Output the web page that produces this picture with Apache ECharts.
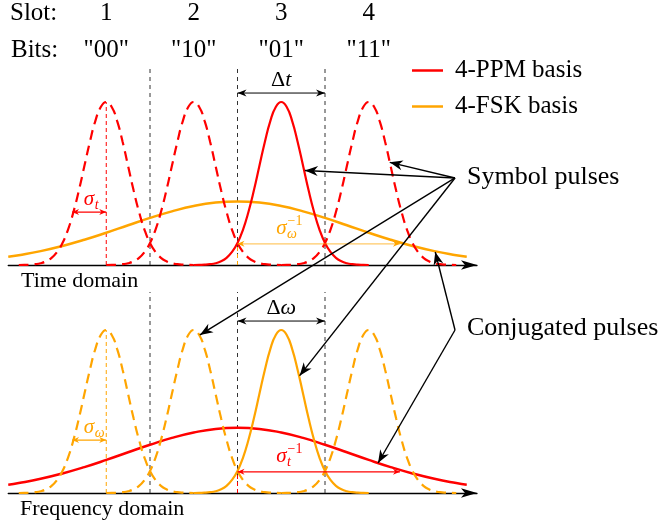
<!DOCTYPE html>
<html>
<head>
<meta charset="utf-8">
<script src="https://cdn.jsdelivr.net/npm/echarts@6/dist/echarts.min.js"></script>
<style>
  html, body { margin: 0; padding: 0; background: #fff; }
  #chart { width: 659px; height: 526px; }
</style>
</head>
<body>
<div id="chart"></div>
<script>
// 颜色
const red = '#ff0000';
const orange = '#ffa500';
const serif = 'Liberation Serif';

// 时隙
const slotNumbers = ['1', '2', '3', '4'];
const slotBits = ['"00"', '"10"', '"01"', '"11"'];
const slotCenters = [1, 2, 3, 4];
const slotBounds = [1.5, 2.5, 3.5];
const activeSlot = 3;

// 窄脉冲（半边）: 偏移 / 高度
const pulseOffsets = [0, 0.0625, 0.125, 0.1875, 0.25, 0.3125, 0.375, 0.4375, 0.5,
  0.5625, 0.625, 0.6875, 0.75, 0.8125, 0.875, 0.9375, 1];
const pulseHeights = [1, 0.969, 0.883, 0.755, 0.607, 0.458, 0.325, 0.216, 0.135,
  0.080, 0.044, 0.023, 0.011, 0.005, 0.002, 0.001, 0];

// 宽脉冲（半边）
const wideCenter = 2.5;
const wideOffsets = [0, 0.25, 0.5, 0.75, 1, 1.25, 1.5, 1.75, 2, 2.25, 2.5, 2.62];
const wideTime = [0.39, 0.383, 0.362, 0.329, 0.289, 0.244, 0.198, 0.155, 0.117, 0.085, 0.060, 0.050];
const wideFreq = [0.40, 0.393, 0.371, 0.338, 0.296, 0.250, 0.203, 0.159, 0.120, 0.087, 0.061, 0.051];

// 标注（数据坐标）
const widthMark = [0.609, 1, 0.325];     // sigma 箭头: x0, x1, y
const crossLevel = 0.13;                 // 交叉高度
const invWidthEnd = 4.357;               // sigma^-1 箭头终点
const deltaLevel = 1.055;                // Δt / Δω 高度
const symbolSource = [0, 4.986, 0.534];
const symbolTargets = [[0, 3.27, 0.58], [0, 4.24, 0.63], [1, 2.07, 0.97], [1, 3.21, 0.72]];
const conjSource = [1, 4.986, 1.0];
const conjTargets = [[0, 4.76, 0.08], [1, 4.106, 0.184]];

const xMin = -0.12, xMax = 5.237;
const yMaxList = [1.21, 1.233];

function mirrorCurve(center, offs, hs) {
  const pts = [];
  for (let i = offs.length - 1; i > 0; i--) pts.push([center - offs[i], hs[i]]);
  for (let i = 0; i < offs.length; i++) pts.push([center + offs[i], hs[i]]);
  return pts;
}

function curveSeries(g, name, data, color, width, dashed) {
  return {
    type: 'line', name: name, xAxisIndex: g, yAxisIndex: g, data: data,
    showSymbol: false, symbol: 'none', smooth: true, z: 3,
    itemStyle: { color: color },
    lineStyle: { color: color, width: width, type: dashed ? [10, 6] : 'solid' }
  };
}

function vline(g, x, y0, y1, color, width, dash) {
  return {
    type: 'line', xAxisIndex: g, yAxisIndex: g, data: [[x, y0], [x, y1]],
    showSymbol: false, symbol: 'none', silent: true, z: 2,
    lineStyle: { color: color, width: width, type: dash }
  };
}

let series = [];
// 两个面板: 时域(红窄脉冲 + 橙宽) / 频域(橙窄脉冲 + 红宽)
[[red, orange, wideTime, '4-PPM basis', '4-FSK basis'],
 [orange, red, wideFreq, '4-FSK basis', '4-PPM basis']].forEach((p, g) => {
  slotBounds.forEach(b => series.push(vline(g, b, 0, yMaxList[g], '#333', 1, [4, 4])));
  series.push(vline(g, 1, 0, 1, p[0], 1, [4, 3]));
  series.push(vline(g, wideCenter, 0, crossLevel, p[1], 1, [4, 3]));
  series.push(curveSeries(g, p[4], mirrorCurve(wideCenter, wideOffsets, p[2]), p[1], 2.5, false));
  slotCenters.forEach(c => {
    const solid = c === activeSlot;
    series.push(curveSeries(g, solid ? p[3] : 'slot ' + c + '-' + g,
      mirrorCurve(c, pulseOffsets, pulseHeights), p[0], solid ? 2.2 : 2.2, !solid));
  });
});

const axisCommon = {
  type: 'value', min: xMin, max: xMax,
  axisLine: { show: true, onZero: false, symbol: ['none', 'arrow'], symbolSize: [7, 16],
    lineStyle: { color: '#000', width: 1.3 } },
  axisTick: { show: false }, axisLabel: { show: false }, splitLine: { show: false }
};

const chart = echarts.init(document.getElementById('chart'));
chart.setOption({
  animation: false,
  backgroundColor: '#fff',
  grid: [
    { left: 8.25, top: 265 - yMaxList[0] * 163, width: (xMax - xMin) * 87.5, height: yMaxList[0] * 163 },
    { left: 8.25, top: 493 - yMaxList[1] * 163, width: (xMax - xMin) * 87.5, height: yMaxList[1] * 163 }
  ],
  xAxis: [Object.assign({ gridIndex: 0 }, axisCommon), Object.assign({ gridIndex: 1 }, axisCommon)],
  yAxis: [
    { type: 'value', gridIndex: 0, min: 0, max: yMaxList[0], show: false },
    { type: 'value', gridIndex: 1, min: 0, max: yMaxList[1], show: false }
  ],
  legend: {
    data: ['4-PPM basis', '4-FSK basis'], orient: 'vertical', left: 412, top: 58,
    icon: 'rect', itemWidth: 31, itemHeight: 2.5, itemGap: 11, padding: 0,
    textStyle: { fontFamily: serif, fontSize: 25, color: '#000', lineHeight: 22, padding: [0, 0, 0, 7] }
  },
  series: series
});

// ---------- 标注 ----------
function px(g, x, y) {
  return chart.convertToPixel({ gridIndex: g }, [x, y]);
}

function head(tip, from, len, half, color) {
  const dx = tip[0] - from[0], dy = tip[1] - from[1];
  const d = Math.hypot(dx, dy);
  const ux = dx / d, uy = dy / d, nx = -uy, ny = ux;
  const bx = tip[0] - ux * len, by = tip[1] - uy * len;
  const notch = [tip[0] - ux * len * 0.7, tip[1] - uy * len * 0.7];
  return {
    type: 'polygon', z: 20, silent: true,
    shape: { points: [tip, [bx + nx * half, by + ny * half], notch, [bx - nx * half, by - ny * half]] },
    style: { fill: color }
  };
}

function arrow(from, to, color, width, len, half, both, opacity) {
  const items = [{
    type: 'line', z: 19, silent: true,
    shape: { x1: from[0], y1: from[1], x2: to[0], y2: to[1] },
    style: { stroke: color, lineWidth: width, opacity: opacity || 1 }
  }];
  items.push(head(to, from, len, half, color));
  if (both) items.push(head(from, to, len, half, color));
  return items;
}

function text(x, y, str, size, opt) {
  return {
    type: 'text', x: x, y: y, z: 30, silent: true,
    style: Object.assign({ text: str, fontFamily: serif, fontSize: size, fill: '#000',
      align: 'left', verticalAlign: 'middle' }, opt || {})
  };
}

// sigma 标签: 底字右对齐于 bx, 上下标左对齐
function mathLabel(bx, cy, sub, sup, color) {
  const it = { fill: color, fontStyle: 'italic' };
  const out = [text(bx, cy, 'σ', 21, Object.assign({ align: 'right' }, it))];
  if (sub) out.push(text(bx + 0.5, cy + 6, sub, 14, it));
  if (sup) out.push(text(bx + 1, cy - 7, sup, 14, { fill: color }));
  return out;
}

let graphic = [];

slotCenters.forEach((c, i) => {
  const x = px(0, c, 0)[0];
  graphic.push(text(x, 13, slotNumbers[i], 25, { align: 'center' }));
  graphic.push(text(x, 50, slotBits[i], 25, { align: 'center' }));
});
graphic.push(text(10, 13, 'Slot:', 25));
graphic.push(text(11, 50, 'Bits:', 25));
graphic.push(text(21, 281, 'Time domain', 22));
graphic.push(text(20, 509, 'Frequency domain', 22));
graphic.push(text(467, 177, 'Symbol pulses', 26));
graphic.push(text(467, 328, 'Conjugated pulses', 26));

[[red, orange, 't', 'ω', 'Δ', 't'], [orange, red, 'ω', 't', 'Δ', 'ω']].forEach((p, g) => {
  // Δt / Δω
  const d0 = px(g, slotBounds[1], deltaLevel), d1 = px(g, slotBounds[2], deltaLevel);
  graphic = graphic.concat(arrow(d0, d1, '#000', 1, 9, 3.5, true));
  graphic.push(text((d0[0] + d1[0]) / 2, d0[1] - 13, '{u|' + p[4] + '}{i|' + p[5] + '}', 22, {
    align: 'center',
    rich: { u: { fontFamily: serif, fontSize: 22 }, i: { fontFamily: serif, fontSize: 22, fontStyle: 'italic' } }
  }));
  // sigma
  const s0 = px(g, widthMark[0], widthMark[2]), s1 = px(g, widthMark[1], widthMark[2]);
  graphic = graphic.concat(arrow(s0, s1, p[0], 1.2, 7, 3, true));
  graphic = graphic.concat(mathLabel((s0[0] + s1[0]) / 2 + 5, s0[1] - 13, p[2], null, p[0]));
  // sigma^-1
  const w0 = px(g, wideCenter, crossLevel), w1 = px(g, invWidthEnd, crossLevel);
  graphic = graphic.concat(arrow(w0, w1, p[1], 1.2, 7, 3, true, g === 0 ? 0.6 : 1));
  graphic = graphic.concat(mathLabel(w0[0] + 49, w0[1] - 15, p[3], '−1', p[1]));
});

const sp = px(symbolSource[0], symbolSource[1], symbolSource[2]);
symbolTargets.forEach(t => {
  graphic = graphic.concat(arrow(sp, px(t[0], t[1], t[2]), '#000', 1.4, 13, 5, false));
});
const cp = px(conjSource[0], conjSource[1], conjSource[2]);
conjTargets.forEach(t => {
  graphic = graphic.concat(arrow(cp, px(t[0], t[1], t[2]), '#000', 1.4, 13, 5, false));
});

chart.setOption({ graphic: graphic });
</script>
</body>
</html>
